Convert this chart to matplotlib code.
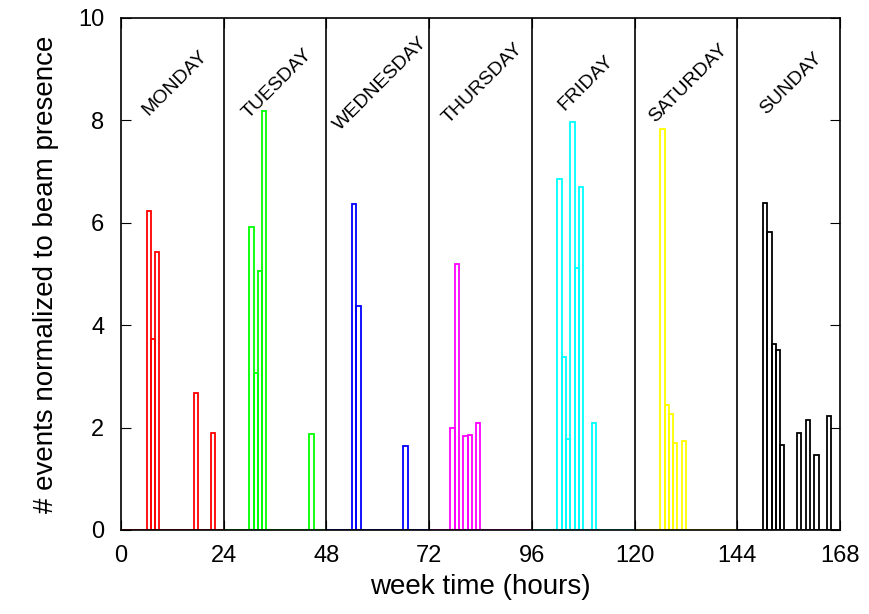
import numpy as np
import matplotlib.pyplot as plt

plt.rcParams['font.family'] = ['Liberation Sans', 'DejaVu Sans']

days = ['MONDAY', 'TUESDAY', 'WEDNESDAY', 'THURSDAY', 'FRIDAY', 'SATURDAY', 'SUNDAY']
colors = ['#ff0000', '#00ff00', '#0000ff', '#ff00ff', '#00ffff', '#ffff00', '#000000']

# hourly values, hour 0..23 of each day
monday = [0, 0, 0, 0, 0, 0, 6.23, 3.73, 5.42, 0, 0, 0, 0, 0, 0, 0, 0, 2.67, 0, 0, 0, 1.89, 0, 0]
tuesday = [0, 0, 0, 0, 0, 0, 5.92, 3.06, 5.05, 8.19, 0, 0, 0, 0, 0, 0, 0, 0, 0, 0, 1.87, 0, 0, 0]
wednesday = [0, 0, 0, 0, 0, 0, 6.37, 4.37, 0, 0, 0, 0, 0, 0, 0, 0, 0, 0, 1.63, 0, 0, 0, 0, 0]
thursday = [0, 0, 0, 0, 0, 2.0, 5.2, 0, 1.84, 1.86, 0, 2.08, 0, 0, 0, 0, 0, 0, 0, 0, 0, 0, 0, 0]
friday = [0, 0, 0, 0, 0, 0, 6.85, 3.37, 1.77, 7.96, 5.11, 6.69, 0, 0, 2.08, 0, 0, 0, 0, 0, 0, 0, 0, 0]
saturday = [0, 0, 0, 0, 0, 0, 7.84, 2.43, 2.26, 1.69, 0, 1.74, 0, 0, 0, 0, 0, 0, 0, 0, 0, 0, 0, 0]
sunday = [0, 0, 0, 0, 0, 0, 6.39, 5.81, 3.63, 3.52, 1.65, 0, 0, 0, 1.89, 0, 2.15, 0, 1.46, 0, 0, 2.23, 0, 0]
week = [monday, tuesday, wednesday, thursday, friday, saturday, sunday]

fig = plt.figure(figsize=(8.7, 6.14), dpi=100)
ax = fig.add_axes([0.139, 0.137, 0.8265, 0.8337])

for d, (vals, c) in enumerate(zip(week, colors)):
    hours = np.arange(24) + 24 * d
    ax.bar(hours, vals, width=1, align='edge', fill=False, edgecolor=c, linewidth=1.3)
    ax.text(24 * d + 12.6, 8.72, days[d], rotation=45, ha='center', va='center', fontsize=14)
    if d > 0:
        ax.axvline(24 * d, color='black', linewidth=1.2)

ax.set_xlim(0, 168)
ax.set_ylim(0, 10)
ax.set_xticks(range(0, 169, 24))
ax.set_yticks(range(0, 11, 2))
ax.tick_params(direction='in', top=True, right=True, labelsize=17, length=7, pad=11)
ax.tick_params(axis='y', pad=12)
for s in ax.spines.values():
    s.set_linewidth(1.2)
ax.set_xlabel('week time (hours)', fontsize=20, labelpad=5)
ax.set_ylabel('# events normalized to beam presence', fontsize=20, labelpad=14)

fig.savefig('out.png', dpi=100)
